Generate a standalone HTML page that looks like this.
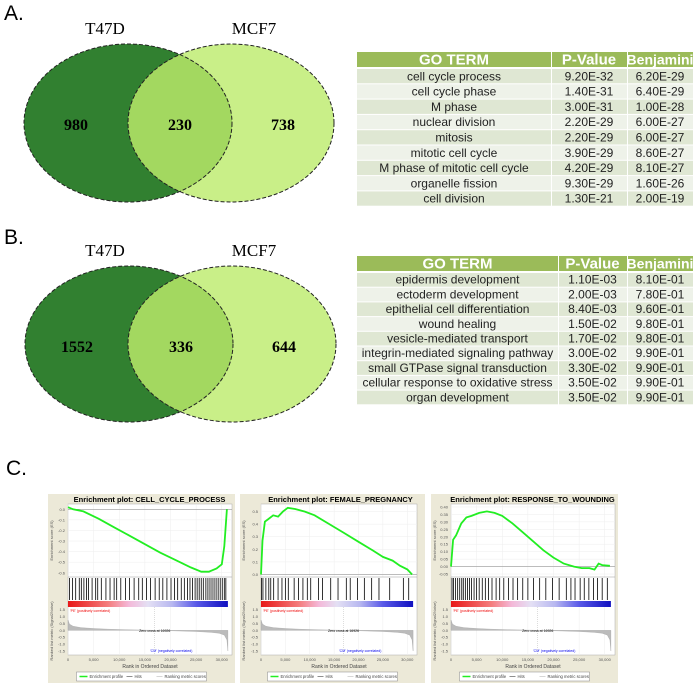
<!DOCTYPE html>
<html><head><meta charset="utf-8"><style>
html,body{margin:0;padding:0;background:#fff;}
svg{display:block;font-family:"Liberation Sans",sans-serif;}
</style></head><body>
<svg id="fig" width="700" height="689" viewBox="0 0 700 689" xmlns="http://www.w3.org/2000/svg">
<defs>
 <clipPath id="clipA"><ellipse cx="128" cy="123" rx="104" ry="79"/></clipPath>
 <clipPath id="clipB"><ellipse cx="129" cy="344" rx="104" ry="78"/></clipPath>
 <linearGradient id="cbar" x1="0" x2="1" y1="0" y2="0">
  <stop offset="0" stop-color="#e81818"/><stop offset="0.25" stop-color="#f47c7c"/>
  <stop offset="0.38" stop-color="#f4b8d8"/><stop offset="0.5" stop-color="#e4e0f4"/>
  <stop offset="0.65" stop-color="#b8b8f0"/><stop offset="0.8" stop-color="#5a5ae8"/>
  <stop offset="1" stop-color="#1010c0"/>
 </linearGradient>
</defs>
<g>
 <text x="4" y="20" font-size="21">A.</text>
 <text x="105" y="34" font-size="17" font-family="Liberation Serif,serif" text-anchor="middle">T47D</text>
 <text x="254" y="34" font-size="17" font-family="Liberation Serif,serif" text-anchor="middle">MCF7</text>
 <ellipse cx="231" cy="123" rx="103" ry="79" fill="#c9ef88"/>
 <ellipse cx="128" cy="123" rx="104" ry="79" fill="#318030"/>
 <ellipse cx="231" cy="123" rx="103" ry="79" fill="#a3d860" clip-path="url(#clipA)"/>
 <ellipse cx="128" cy="123" rx="104" ry="79" fill="none" stroke="#222" stroke-dasharray="4,2"/>
 <ellipse cx="231" cy="123" rx="103" ry="79" fill="none" stroke="#222" stroke-dasharray="4,2"/>
 <g font-family="Liberation Serif,serif" font-weight="bold" font-size="16" text-anchor="middle">
  <text x="76" y="130">980</text>
  <text x="180" y="130">230</text>
  <text x="283" y="130">738</text>
 </g>
 <g id="tableA"></g>
</g>
<g>
 <text x="4" y="244" font-size="21">B.</text>
 <text x="105" y="256" font-size="17" font-family="Liberation Serif,serif" text-anchor="middle">T47D</text>
 <text x="254" y="256" font-size="17" font-family="Liberation Serif,serif" text-anchor="middle">MCF7</text>
 <ellipse cx="232" cy="344" rx="104" ry="78" fill="#c9ef88"/>
 <ellipse cx="129" cy="344" rx="104" ry="78" fill="#318030"/>
 <ellipse cx="232" cy="344" rx="104" ry="78" fill="#a3d860" clip-path="url(#clipB)"/>
 <ellipse cx="129" cy="344" rx="104" ry="78" fill="none" stroke="#222" stroke-dasharray="4,2"/>
 <ellipse cx="232" cy="344" rx="104" ry="78" fill="none" stroke="#222" stroke-dasharray="4,2"/>
 <g font-family="Liberation Serif,serif" font-weight="bold" font-size="16" text-anchor="middle">
  <text x="77" y="352">1552</text>
  <text x="181" y="352">336</text>
  <text x="284" y="352">644</text>
 </g>
 <g id="tableB"></g>
</g>
<g>
 <text x="6" y="475" font-size="21">C.</text>
 <g id="gsea"></g>
</g>
</svg>
<script>
const NS="http://www.w3.org/2000/svg";
function mk(tag,attrs,parent,text){const e=document.createElementNS(NS,tag);for(const k in attrs)e.setAttribute(k,attrs[k]);if(text!==undefined)e.textContent=text;parent.appendChild(e);return e;}

const termsA=["cell cycle process","cell cycle phase","M phase","nuclear division","mitosis","mitotic cell cycle","M phase of mitotic cell cycle","organelle fission","cell division"];
const pvalsA=["9.20E-32","1.40E-31","3.00E-31","2.20E-29","2.20E-29","3.90E-29","4.20E-29","9.30E-29","1.30E-21"];
const benjA=["6.20E-29","6.40E-29","1.00E-28","6.00E-27","6.00E-27","8.60E-27","8.10E-27","1.60E-26","2.00E-19"];
const termsB=["epidermis development","ectoderm development","epithelial cell differentiation","wound healing","vesicle-mediated transport","integrin-mediated signaling pathway","small GTPase signal transduction","cellular response to oxidative stress","organ development"];
const pvalsB=["1.10E-03","2.00E-03","8.40E-03","1.50E-02","1.70E-02","3.00E-02","3.30E-02","3.50E-02","3.50E-02"];
const benjB=["8.10E-01","7.80E-01","9.60E-01","9.80E-01","9.80E-01","9.90E-01","9.90E-01","9.90E-01","9.90E-01"];

function drawTable(id,terms,pv,bj,top,split1,rowH){
 const g=document.getElementById(id);
 const L=357,R=693,hH=15;
 const cols=[[L,split1],[split1,627],[627,R]];
 const heads=["GO TERM","P-Value","Benjamini"];
 cols.forEach((c,i)=>{
  const r=mk('rect',{x:c[0]+(i?1:0),y:top,width:c[1]-c[0]-(i?1:0),height:hH,fill:'#9bbb59'},g);
  
  
  mk('text',{x:(c[0]+c[1])/2,y:top+12.5,'text-anchor':'middle','font-size':(i==2?14:15),'font-weight':'bold',fill:'#fff'},g,heads[i]);
 });
 terms.forEach((t,j)=>{
  const y=top+hH+2+j*rowH;
  const vals=[t,pv[j],bj[j]];
  cols.forEach((c,i)=>{
   const r=mk('rect',{x:c[0]+(i?1:0),y:y,width:c[1]-c[0]-(i?1:0),height:rowH-1,fill:(j%2==0?'#dfe7d3':'#eef2e9')},g);
   
   
   mk('text',{x:(c[0]+c[1])/2,y:y+rowH-4,'text-anchor':'middle','font-size':12,fill:'#222'},g,vals[i]);
  });
 });
}
drawTable('tableA',termsA,pvalsA,benjA,52,551,15.3);
drawTable('tableB',termsB,pvalsB,benjB,256,558,14.7);

const titles=["Enrichment plot: CELL_CYCLE_PROCESS","Enrichment plot: FEMALE_PREGNANCY","Enrichment plot: RESPONSE_TO_WOUNDING"];
const esRanks1=[0,1000,3000,6000,9000,12000,15000,18000,21000,24000,26000,27500,29000,30000,30500,31000];
const esVals1=[0.02,0.0,-0.02,-0.09,-0.17,-0.25,-0.33,-0.41,-0.48,-0.55,-0.59,-0.59,-0.56,-0.52,-0.35,0.0];
const esRanks2=[0,300,800,1500,2500,3500,4500,5500,7000,9000,11000,14000,17000,20000,23000,25000,27000,28500,30000,31000];
const esVals2=[0,0.27,0.42,0.44,0.47,0.46,0.50,0.53,0.52,0.50,0.47,0.40,0.33,0.26,0.19,0.14,0.11,0.07,0.04,0.0];
const esRanks3=[0,400,1000,2000,3000,4000,5500,7000,8500,10000,12000,14000,16000,18000,20000,22000,24000,25500,27000,28000,28800,29500,31000];
const esVals3=[0,0.18,0.21,0.29,0.33,0.34,0.36,0.37,0.36,0.34,0.29,0.23,0.17,0.11,0.06,0.02,0.0,-0.01,-0.01,-0.02,0.02,0.01,0.005];
const hits1=[300,900,1500,2200,2600,3100,3600,4000,4700,5400,5800,6500,7400,8200,9000,9500,10300,11200,12000,12900,13800,14500,15300,16100,17000,17800,18500,19300,20100,20800,21400,22100,22700,23300,23800,24300,24800,25200,25600,26000,26400,26900,27300,27700,28100,28500,28900,29300,29700,30100,30500,30800];
const hits2=[100,400,1000,1600,2000,2600,3500,4300,5000,5600,6800,7700,8600,9500,10200,11800,12600,14300,15800,17500,18300,19800,21200,22700,24200,26400,29200,30300];
const hits3=[200,500,900,1300,1700,2100,2400,2800,3200,3600,4000,4500,5000,5500,6100,6700,7300,8000,8800,9500,10300,11200,12100,13000,14000,15000,16100,17300,18500,19800,21100,22500,23400,24200,25200,26000,26900,27800,28600,29500,30500];
const esTicks1=[0.0,-0.1,-0.2,-0.3,-0.4,-0.5,-0.6];
const esTicks2=[0.0,0.1,0.2,0.3,0.4,0.5];
const esTicks3=[0.40,0.35,0.30,0.25,0.20,0.15,0.10,0.05,0.00,-0.05];
const esDomains=[[-0.64,0.05],[-0.02,0.56],[-0.07,0.42]];
const metricRanks=[0,300,1000,2500,5000,8000,12000,16926,21000,25000,28000,29500,30500,31000,31200];
const metricVals=[0.75,0.45,0.3,0.2,0.13,0.08,0.04,0,-0.04,-0.09,-0.15,-0.22,-0.35,-0.7,-1.5];
const metricTicks=[1.5,1.0,0.5,0.0,-0.5,-1.0,-1.5];
const rankTicks=[0,5000,10000,15000,20000,25000,30000];
const rankTickLabels=["0","5,000","10,000","15,000","20,000","25,000","30,000"];
const zeroCross=16926;

const layouts=[{x0:48,w:187,pl:68,pr:232},{x0:240,w:185,pl:261,pr:417},{x0:431,w:187,pl:451,pr:615}];
const esList=[[esRanks1,esVals1],[esRanks2,esVals2],[esRanks3,esVals3]];
const hitList=[hits1,hits2,hits3];
const tickList=[esTicks1,esTicks2,esTicks3];
const gs=document.getElementById('gsea');

layouts.forEach((L,i)=>{
 const g=mk('g',{},gs);
 
 
 const rankMax=32000;
 const xs=r=>L.pl+(r/rankMax)*(L.pr-L.pl);
 const T1=504,B1=577,T2=577,B2=601,T3=601,B3=607,T4=607,B4=655;
 const dom=esDomains[i];
 const ys=v=>B1-(v-dom[0])/(dom[1]-dom[0])*(B1-T1);
 const ym=v=>B4-(v+1.8)/(3.5)*(B4-T4);
 mk('rect',{x:L.x0,y:494,width:L.w,height:189,fill:'#ece9d8'},g);
 const t=mk('text',{x:L.x0+L.w/2+8,y:502,'text-anchor':'middle','font-size':7.5,'font-weight':'bold'},g,titles[i]);
 
 
 mk('rect',{x:L.pl,y:T1,width:L.pr-L.pl,height:B4-T1,fill:'#fff',stroke:'#aaa','stroke-width':0.5},g);
 rankTicks.forEach(r=>{mk('line',{x1:xs(r),x2:xs(r),y1:T1,y2:B1,stroke:'#eee','stroke-width':0.5},g);mk('line',{x1:xs(r),x2:xs(r),y1:T4,y2:B4,stroke:'#eee','stroke-width':0.5},g);});
 tickList[i].forEach(v=>{mk('line',{x1:L.pl,x2:L.pr,y1:ys(v),y2:ys(v),stroke:'#eee','stroke-width':0.5},g);
  mk('text',{x:L.pl-3,y:ys(v)+1.5,'text-anchor':'end','font-size':4,fill:'#555'},g,v.toFixed(i==2?2:1));});
 mk('line',{x1:L.pl,x2:L.pr,y1:ys(0),y2:ys(0),stroke:'#999','stroke-width':0.6},g);
 mk('line',{x1:L.pl,x2:L.pr,y1:B1,y2:B1,stroke:'#999','stroke-width':0.5},g);
 mk('text',{x:0,y:0,'font-size':4,fill:'#555','text-anchor':'middle',transform:`translate(${L.x0+5},${(T1+B1)/2}) rotate(-90)`},g,'Enrichment score (ES)');
 const [er,ev]=esList[i];
 const pts=er.map((r,k)=>xs(r).toFixed(1)+','+ys(ev[k]).toFixed(1)).join(' ');
 const es=mk('polyline',{points:pts,fill:'none',stroke:'#22ee22','stroke-width':1.8},g);
 
 
 hitList[i].forEach(r=>{
  const h=mk('line',{x1:xs(r),x2:xs(r),y1:T2+1,y2:B2-1,stroke:'#000','stroke-width':0.8},g);
  
  
 });
 mk('rect',{x:L.pl,y:T3,width:xs(31200)-L.pl,height:B3-T3,fill:'url(#cbar)'},g);
 metricTicks.forEach(v=>mk('text',{x:L.pl-3,y:ym(v)+1.5,'text-anchor':'end','font-size':4,fill:'#555'},g,v.toFixed(1)));
 let d='M'+xs(metricRanks[0])+','+ym(0);
 metricRanks.forEach((r,k)=>d+=' L'+xs(r).toFixed(1)+','+ym(metricVals[k]).toFixed(1));
 d+=' L'+xs(metricRanks[metricRanks.length-1])+','+ym(0)+'Z';
 const m=mk('path',{d:d,fill:'#bbb',stroke:'#999','stroke-width':0.3},g);
 
 
 mk('line',{x1:xs(zeroCross),x2:xs(zeroCross),y1:T4,y2:B4,stroke:'#bbb','stroke-width':0.5,'stroke-dasharray':'1,1'},g);
 mk('text',{x:xs(zeroCross),y:ym(0)+1.5,'text-anchor':'middle','font-size':3.5},g,'Zero cross at '+zeroCross);
 mk('text',{x:L.pl+2,y:T4+5,'font-size':3.5,fill:'#e00'},g,"'PE' (positively correlated)");
 mk('text',{x:xs(16000),y:B4-3,'font-size':3.5,fill:'#00e'},g,"'CM' (negatively correlated)");
 mk('text',{x:0,y:0,'font-size':4,fill:'#555','text-anchor':'middle',transform:`translate(${L.x0+5},${(T4+B4)/2}) rotate(-90)`},g,'Ranked list metric (Signal2Noise)');
 rankTicks.forEach((r,k)=>mk('text',{x:xs(r),y:661,'text-anchor':'middle','font-size':4,fill:'#555'},g,rankTickLabels[k]));
 mk('text',{x:(L.pl+L.pr)/2,y:668,'text-anchor':'middle','font-size':5,fill:'#444'},g,'Rank in Ordered Dataset');
 const lx=L.x0+L.w/2-65;
 const lg=mk('g',{},g);
 
 
 mk('rect',{x:lx,y:672,width:130,height:9,fill:'#fff',stroke:'#888','stroke-width':0.5},lg);
 mk('line',{x1:lx+3,x2:lx+11,y1:676.5,y2:676.5,stroke:'#22ee22','stroke-width':1.5},lg);
 mk('text',{x:lx+13,y:678,'font-size':4.2,fill:'#444'},lg,'Enrichment profile');
 mk('line',{x1:lx+50,x2:lx+56,y1:676.5,y2:676.5,stroke:'#444','stroke-width':0.6},lg);
 mk('text',{x:lx+58,y:678,'font-size':4.2,fill:'#444'},lg,'Hits');
 mk('line',{x1:lx+80,x2:lx+86,y1:676.5,y2:676.5,stroke:'#bbb','stroke-width':0.6},lg);
 mk('text',{x:lx+88,y:678,'font-size':4.2,fill:'#444'},lg,'Ranking metric scores');
});
</script>
</body></html>
